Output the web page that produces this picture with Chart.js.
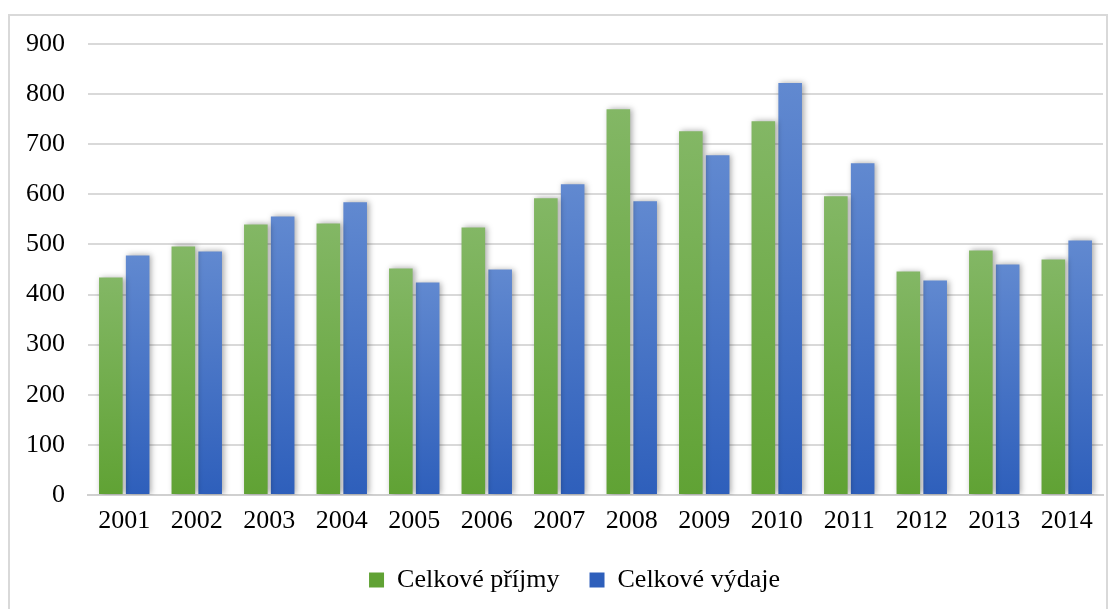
<!DOCTYPE html>
<html>
<head>
<meta charset="utf-8">
<script src="https://cdn.jsdelivr.net/npm/chart.js@4"></script>
<style>
  body { margin: 0; background: #fff; }
  #frame { position: absolute; left: 8px; top: 14px; width: 1100px; height: 610px; border: 2px solid #d9d9d9; box-sizing: border-box; }
  #wrap { position: absolute; left: 0; top: 0; width: 1119px; height: 609px; }
</style>
</head>
<body>
<div id="frame"></div>
<div id="wrap"><canvas id="myChart" width="1119" height="609"></canvas></div>
<script>
// roky na ose x
const years = ['2001', '2002', '2003', '2004', '2005', '2006', '2007',
  '2008', '2009', '2010', '2011', '2012', '2013', '2014'];
// celkove prijmy a vydaje (odhad z obrazku)
const prijmy = [434, 496, 540, 542, 452, 534, 592, 770, 726, 746, 596, 446, 488, 470];
const vydaje = [478, 486, 556, 584, 424, 450, 620, 586, 678, 822, 662, 428, 460, 508];
const seriesNames = ['Celkové příjmy', 'Celkové výdaje'];

// gradient pro kazdy sloupec zvlast (svetlejsi nahore)
function barGradient(top, bottom) {
  return function (c) {
    const chart = c.chart;
    if (!chart.chartArea || c.raw === undefined) return bottom;
    const y = chart.scales.y;
    const y0 = y.getPixelForValue(c.raw);
    const y1 = y.getPixelForValue(0);
    if (!isFinite(y0) || !isFinite(y1) || y0 === y1) return bottom;
    const g = chart.ctx.createLinearGradient(0, y0, 0, y1);
    g.addColorStop(0, top);
    g.addColorStop(1, bottom);
    return g;
  };
}

// stin pod sloupci
const shadowPlugin = {
  id: 'shadow',
  beforeDatasetsDraw(chart) {
    const ctx = chart.ctx;
    ctx.save();
    ctx.shadowColor = 'rgba(0,0,0,0.35)';
    ctx.shadowBlur = 6;
    ctx.shadowOffsetX = 2;
    ctx.shadowOffsetY = 0;
  },
  afterDatasetsDraw(chart) {
    chart.ctx.restore();
  }
};

// legendu posunout trochu doprava (stred jako v originale)
const legendShift = {
  id: 'legendShift',
  afterLayout(chart) {
    chart.legend.left += 18;
    chart.legend.right += 18;
  }
};

const font = { family: '"Liberation Serif", "Times New Roman", serif', size: 26 };

const ctx = document.getElementById('myChart').getContext('2d');
const myChart = new Chart(ctx, {
  type: 'bar',
  data: {
    labels: years,
    datasets: [{
      label: seriesNames[0],
      data: prijmy,
      backgroundColor: barGradient('#83b765', '#60a234'),
      categoryPercentage: 0.74,
      barPercentage: 0.88
    }, {
      label: seriesNames[1],
      data: vydaje,
      backgroundColor: barGradient('#6189d0', '#2e5fbb'),
      categoryPercentage: 0.74,
      barPercentage: 0.88
    }]
  },
  options: {
    responsive: false,
    animation: false,
    layout: { padding: { left: 10, right: 16, top: 44, bottom: 6 } },
    scales: {
      x: {
        grid: { display: false, drawTicks: false },
        border: { display: true, color: '#d0d0d0', width: 2 },
        ticks: { color: '#000', font: font, padding: 11 },
        afterFit: s => { s.height = 42; }
      },
      y: {
        min: 0,
        max: 900,
        ticks: { stepSize: 100, color: '#000', font: font, padding: 23 },
        grid: { color: '#d9d9d9', lineWidth: 2, drawTicks: false },
        border: { display: false },
        afterFit: s => { s.width = 78; }
      }
    },
    plugins: {
      legend: {
        position: 'bottom',
        labels: {
          color: '#000',
          font: font,
          boxWidth: 15,
          boxHeight: 15,
          padding: 30
        }
      },
      tooltip: { enabled: false }
    }
  },
  plugins: [shadowPlugin, legendShift]
});
</script>
</body>
</html>
